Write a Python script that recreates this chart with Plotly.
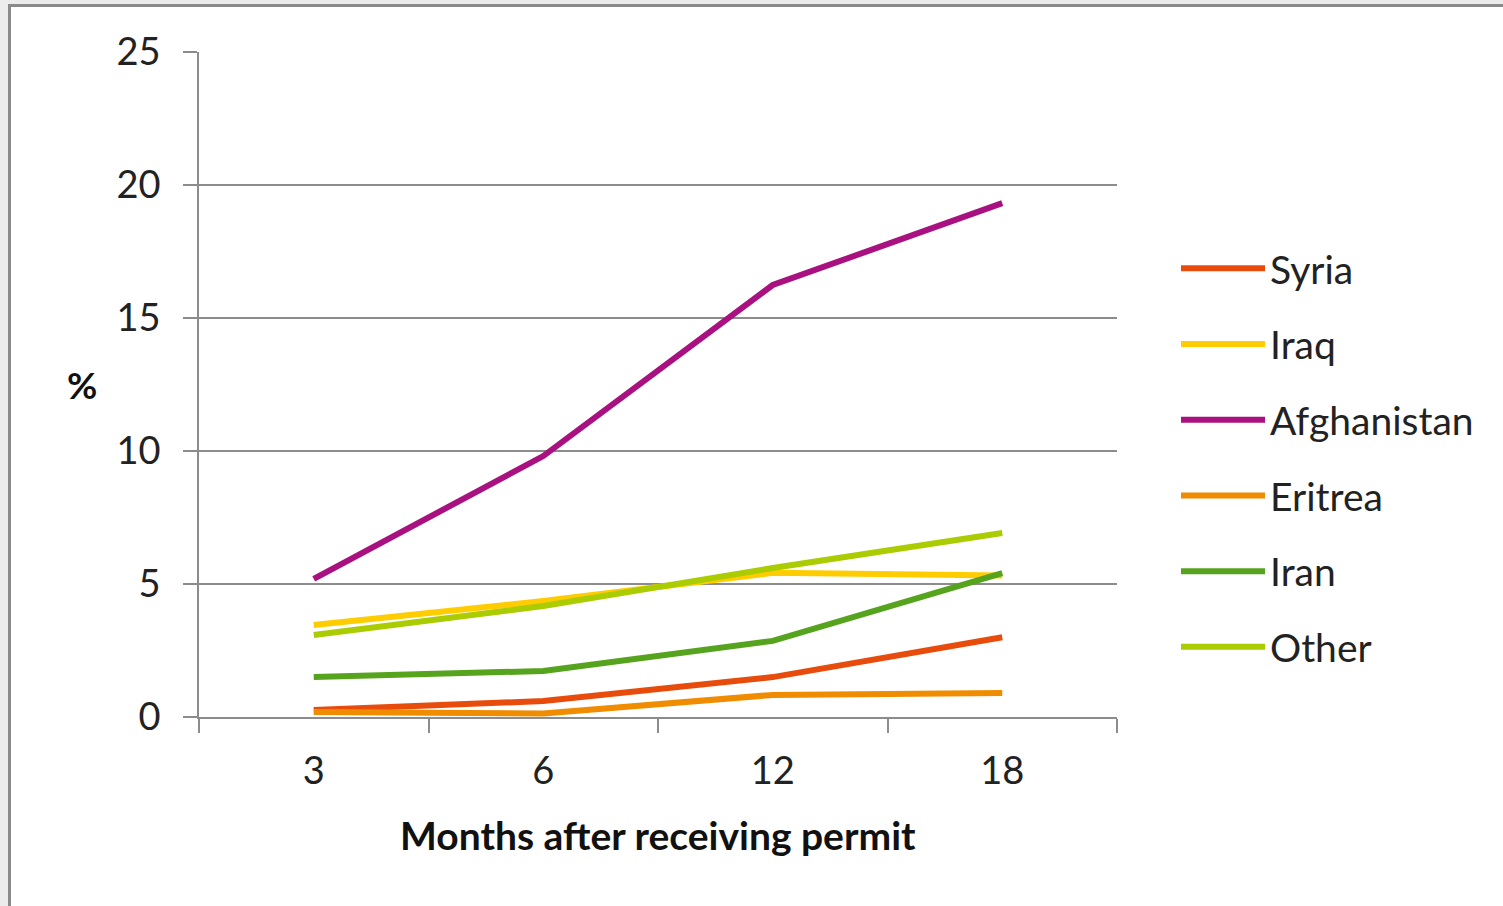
import plotly.graph_objects as go

months = ["3", "6", "12", "18"]
syria = [0.26, 0.6, 1.5, 3.0]
iraq = [3.46, 4.36, 5.42, 5.32]
afghanistan = [5.19, 9.81, 16.24, 19.32]
eritrea = [0.19, 0.13, 0.83, 0.9]
iran = [1.5, 1.73, 2.86, 5.41]
other = [3.08, 4.17, 5.6, 6.92]

series = [
    ("Syria", syria, "#E84C0C"),
    ("Iraq", iraq, "#FFCC00"),
    ("Afghanistan", afghanistan, "#A8117F"),
    ("Eritrea", eritrea, "#F08C00"),
    ("Iran", iran, "#56A41E"),
    ("Other", other, "#AACC00"),
]

W, H = 1503, 906
L, R, T, B = 199, 1117, 52, 717
FONT = "Lato"

fig = go.Figure()
for name, vals, col in series:
    fig.add_trace(go.Scatter(
        x=months, y=vals, name=name, mode="lines",
        line=dict(color=col, width=6), legendgroup=name,
    ))

def px_x(p):
    return (p - L) / (R - L)

def px_y(p):
    return (B - p) / (B - T)

fig.update_layout(
    width=W, height=H,
    margin=dict(l=L, r=W - R, t=T, b=H - B, pad=0),
    paper_bgcolor="#ececec",
    plot_bgcolor="rgba(0,0,0,0)",
    font=dict(family=FONT, size=38, color="#222222"),
    showlegend=True,
    legend=dict(
        x=px_x(1176), xanchor="left", y=px_y(458), yanchor="middle",
        font=dict(family=FONT, size=39, color="#222222"),
        tracegroupgap=22, itemwidth=84, bgcolor="rgba(0,0,0,0)",
    ),
    shapes=[dict(
        type="rect", xref="paper", yref="paper", layer="below",
        x0=px_x(9.5), x1=px_x(1520), y0=px_y(920), y1=px_y(5.5),
        fillcolor="white", line=dict(color="#8a8a8a", width=3),
    )],
    annotations=[
        dict(text="<b>%</b>", xref="paper", yref="paper",
             x=px_x(82), y=px_y(385), xanchor="center", yanchor="middle",
             showarrow=False,
             font=dict(family=FONT, size=37, color="#111111")),
        dict(text="<b>Months after receiving permit</b>", xref="paper", yref="paper",
             x=px_x(658), y=px_y(835), xanchor="center", yanchor="middle",
             showarrow=False,
             font=dict(family=FONT, size=39, color="#111111")),
    ],
)

fig.update_xaxes(
    type="category", range=[-0.5, 3.5],
    showline=True, linecolor="#8c8c8c", linewidth=1.5,
    ticks="outside", tickson="boundaries", ticklen=14, tickcolor="#8c8c8c", tickwidth=1.5,
    showgrid=False, ticklabelstandoff=20,
    tickfont=dict(family=FONT, size=38, color="#222222"),
)
fig.update_yaxes(
    range=[0, 25], tickvals=[0, 5, 10, 15, 20, 25],
    showline=True, linecolor="#8c8c8c", linewidth=1.5,
    ticks="outside", ticklen=14, tickcolor="#8c8c8c", tickwidth=1.5,
    showgrid=True, gridcolor="#8c8c8c", gridwidth=1.5, zeroline=False,
    ticklabelstandoff=15,
    tickfont=dict(family=FONT, size=38, color="#222222"),
)

fig.write_html(
    "out.html",
    config={"displayModeBar": False},
    post_script="document.body.style.margin='0';document.body.style.background='#ececec';",
)
